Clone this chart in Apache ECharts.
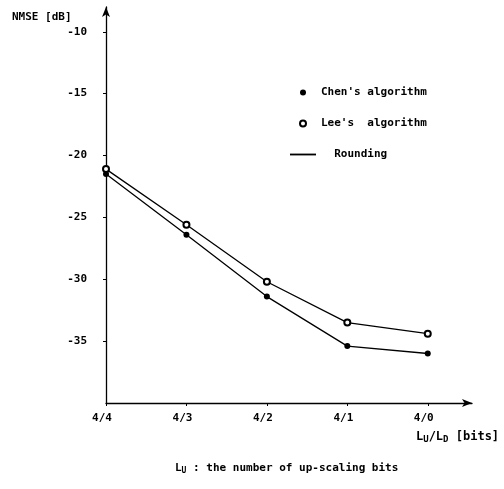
<!DOCTYPE html>
<html>
<head>
<meta charset="utf-8">
<script src="https://cdn.jsdelivr.net/npm/echarts@6/dist/echarts.min.js"></script>
<style>
  html, body { margin: 0; padding: 0; background: #fff; }
  #chart { width: 504px; height: 489px; }
</style>
</head>
<body>
<div id="chart"></div>
<script>
// x轴刻度名称
const xLabels = ['4/4', '4/3', '4/2', '4/1', '4/0'];
// 两条曲线的数据 (dB)
const chenValues = [-21.5, -26.4, -31.4, -35.4, -36.0];
const leeValues = [-21.1, -25.6, -30.2, -33.5, -34.4];
// y轴刻度
const yTicks = [-35, -30, -25, -20, -15, -10];

const font = 'DejaVu Sans Mono';
const chart = echarts.init(document.getElementById('chart'));

const toPoints = (vals) => vals.map((v, i) => [i, v]);

const option = {
  backgroundColor: '#fff',
  animation: false,
  grid: { left: 106, right: 32, top: 7, bottom: 86 },
  legend: {
    orient: 'vertical',
    left: 285,
    top: 82,
    itemWidth: 26,
    itemHeight: 6,
    itemGap: 20,
    textStyle: { fontFamily: font, fontWeight: 'bold', fontSize: 11, color: '#000' },
    formatter: (name) => (name === 'Rounding' ? '  Rounding' : name),
    data: [
      { name: "Chen's algorithm", icon: 'circle' },
      { name: "Lee's  algorithm", icon: 'emptyCircle' },
      { name: 'Rounding', icon: 'path://M0,0L1,0L1,0.07L0,0.07Z' }
    ]
  },
  xAxis: {
    type: 'value',
    min: 0,
    max: 4.55,
    interval: 1,
    splitLine: { show: false },
    axisLine: {
      lineStyle: { color: '#000', width: 1.3 },
      symbol: ['none', 'arrow'],
      symbolSize: [6, 10]
    },
    axisTick: { customValues: [0, 1, 2, 3, 4], length: 3, lineStyle: { color: '#000' } },
    axisLabel: {
      customValues: [0, 1, 2, 3, 4],
      margin: 10,
      padding: [0, 8, 0, 0],
      fontFamily: font, fontWeight: 'bold', fontSize: 11, color: '#000',
      formatter: (v) => xLabels[v] || ''
    }
  },
  yAxis: {
    type: 'value',
    min: -40,
    max: -8,
    interval: 5,
    splitLine: { show: false },
    axisLine: {
      lineStyle: { color: '#000', width: 1.3 },
      symbol: ['none', 'arrow'],
      symbolSize: [6, 10]
    },
    axisTick: { customValues: yTicks, length: 3, lineStyle: { color: '#000' } },
    axisLabel: {
      customValues: yTicks,
      margin: 19,
      fontFamily: font, fontWeight: 'bold', fontSize: 11, color: '#000'
    }
  },
  graphic: [
    {
      type: 'text', left: 12, top: 12,
      style: { text: 'NMSE [dB]', font: 'bold 11px "DejaVu Sans Mono"', fill: '#000' }
    },
    {
      type: 'text', left: 416, top: 431,
      style: {
        text: '{m|L}{s|U}{m|/L}{s|D}{m| [bits]}',
        rich: {
          m: { font: 'bold 12px "DejaVu Sans Mono"', fill: '#000' },
          s: { font: 'bold 9px "DejaVu Sans Mono"', fill: '#000', padding: [6, 0, 0, 0] }
        }
      }
    },
    {
      type: 'text', left: 175, top: 463,
      style: {
        text: '{m|L}{s|U}{m| : the number of up-scaling bits}',
        rich: {
          m: { font: 'bold 11px "DejaVu Sans Mono"', fill: '#000' },
          s: { font: 'bold 8px "DejaVu Sans Mono"', fill: '#000', padding: [5, 0, 0, 0] }
        }
      }
    }
  ],
  series: [
    {
      name: "Chen's algorithm",
      type: 'line',
      data: toPoints(chenValues),
      symbol: 'circle',
      symbolSize: 6,
      lineStyle: { color: '#000', width: 1.3 },
      itemStyle: { color: '#000' }
    },
    {
      name: "Lee's  algorithm",
      type: 'line',
      data: toPoints(leeValues),
      symbol: 'emptyCircle',
      symbolSize: 6,
      lineStyle: { color: '#000', width: 1.3 },
      itemStyle: { color: '#000', borderWidth: 1 }
    },
    {
      name: 'Rounding',
      type: 'line',
      data: [],
      lineStyle: { color: '#000', width: 1.3 },
      itemStyle: { color: '#000' }
    }
  ]
};
chart.setOption(option);
</script>
</body>
</html>
